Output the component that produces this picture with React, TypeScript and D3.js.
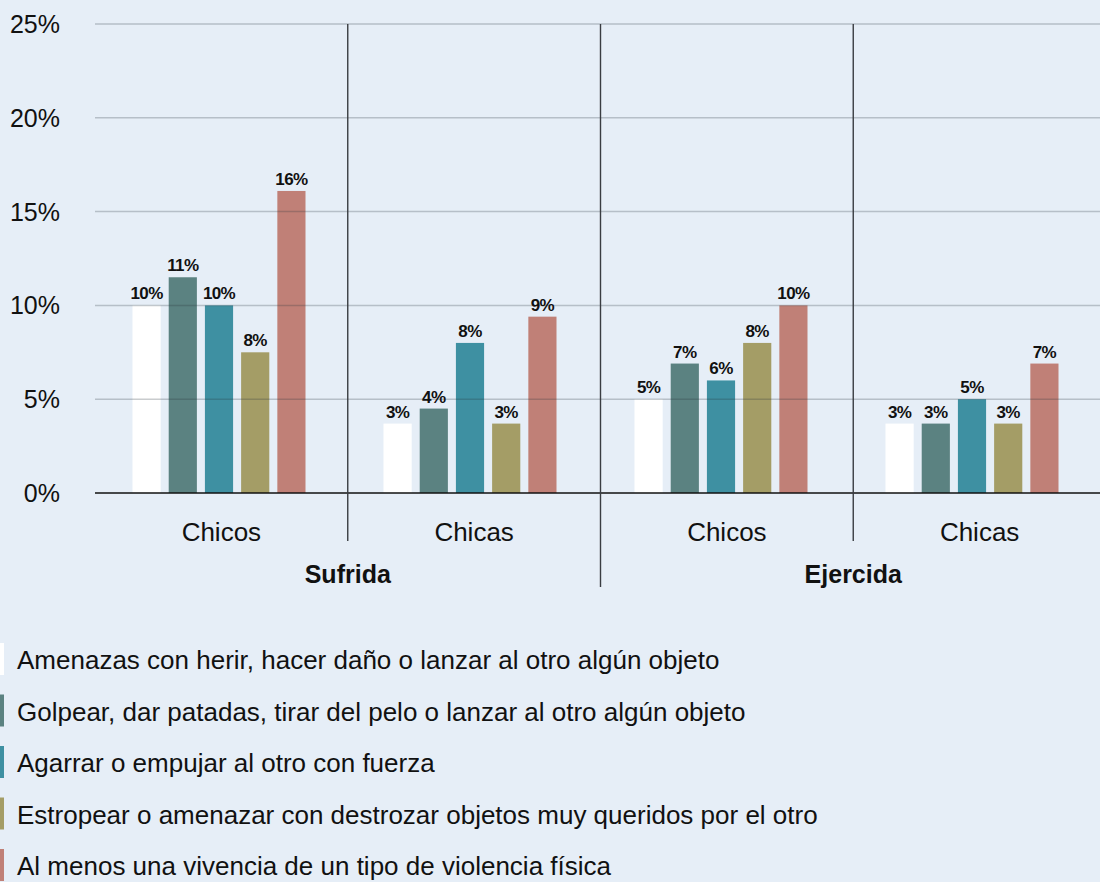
import * as d3 from "d3";
import { useEffect, useRef } from "react";

const WIDTH = 1100;
const HEIGHT = 882;

// categories on the x axis: (group, subgroup)
const groups = ["Sufrida", "Ejercida"];
const subgroups = ["Chicos", "Chicas"];
const categories = ["Sufrida-Chicos", "Sufrida-Chicas", "Ejercida-Chicos", "Ejercida-Chicas"];

const seriesNames = [
  "Amenazas con herir, hacer daño o lanzar al otro algún objeto",
  "Golpear, dar patadas, tirar del pelo o lanzar al otro algún objeto",
  "Agarrar o empujar al otro con fuerza",
  "Estropear o amenazar con destrozar objetos muy queridos por el otro",
  "Al menos una vivencia de un tipo de violencia física",
];
const seriesColors = ["#ffffff", "#5b8281", "#3e90a2", "#a49d66", "#c08077"];

// values in % per category (same order as categories)
const amenazas = [10.0, 3.7, 5.0, 3.7];
const golpear = [11.5, 4.5, 6.9, 3.7];
const agarrar = [10.0, 8.0, 6.0, 5.0];
const estropear = [7.5, 3.7, 8.0, 3.7];
const alMenos = [16.1, 9.4, 10.0, 6.9];

const amenazasLabels = ["10%", "3%", "5%", "3%"];
const golpearLabels = ["11%", "4%", "7%", "3%"];
const agarrarLabels = ["10%", "8%", "6%", "5%"];
const estropearLabels = ["8%", "3%", "8%", "3%"];
const alMenosLabels = ["16%", "9%", "10%", "7%"];

const yTicks = [0, 5, 10, 15, 20, 25];

const FONT = "'Liberation Sans', Arial, sans-serif";

export default function App() {
  const ref = useRef<SVGSVGElement | null>(null);

  useEffect(() => {
    const el = ref.current;
    if (!el) return;
    const svg = d3.select(el);
    svg.selectAll("*").remove();

    const values = [amenazas, golpear, agarrar, estropear, alMenos];
    const labels = [amenazasLabels, golpearLabels, agarrarLabels, estropearLabels, alMenosLabels];

    svg.append("rect").attr("width", WIDTH).attr("height", HEIGHT).attr("fill", "#e6eef7");

    const y = d3.scaleLinear().domain([0, 25]).range([493, 24]);
    const xCat = d3.scaleBand<string>().domain(categories).range([95, 1106]);
    const xBar = d3.scaleBand<string>().domain(categories).range([93.5, 1097.5]);
    const xInner = d3.scaleBand<string>().domain(seriesNames).range([-86.5, 86.5]).paddingInner(0.222);

    // bars
    seriesNames.forEach((name, si) => {
      svg
        .append("g")
        .selectAll("rect")
        .data(categories)
        .enter()
        .append("rect")
        .attr("x", (c) => (xBar(c) ?? 0) + xBar.bandwidth() / 2 + (xInner(name) ?? 0))
        .attr("y", (_, ci) => y(values[si][ci]))
        .attr("width", xInner.bandwidth())
        .attr("height", (_, ci) => y(0) - y(values[si][ci]))
        .attr("fill", seriesColors[si]);
    });

    // grid on top of bars
    svg
      .append("g")
      .selectAll("line")
      .data(yTicks.filter((t) => t > 0))
      .enter()
      .append("line")
      .attr("x1", 95)
      .attr("x2", WIDTH)
      .attr("y1", (d) => y(d))
      .attr("y2", (d) => y(d))
      .attr("stroke", "rgba(40,50,60,0.25)")
      .attr("stroke-width", 1.5);

    svg
      .append("line")
      .attr("x1", 95)
      .attr("x2", WIDTH)
      .attr("y1", y(0))
      .attr("y2", y(0))
      .attr("stroke", "#111")
      .attr("stroke-width", 1.5);

    // y tick labels
    svg
      .append("g")
      .selectAll("text")
      .data(yTicks)
      .enter()
      .append("text")
      .attr("x", 60)
      .attr("y", (d) => y(d) + 9)
      .attr("text-anchor", "end")
      .attr("font-family", FONT)
      .attr("font-size", 25)
      .attr("fill", "#111")
      .text((d) => `${d}%`);

    // value labels
    seriesNames.forEach((name, si) => {
      svg
        .append("g")
        .selectAll("text")
        .data(categories)
        .enter()
        .append("text")
        .attr("x", (c) => (xBar(c) ?? 0) + xBar.bandwidth() / 2 + (xInner(name) ?? 0) + xInner.bandwidth() / 2)
        .attr("y", (_, ci) => y(values[si][ci]) - 6)
        .attr("text-anchor", "middle")
        .attr("font-family", FONT)
        .attr("font-size", 17)
        .attr("font-weight", 700)
        .attr("letter-spacing", -0.6)
        .attr("fill", "#111")
        .text((_, ci) => labels[si][ci]);
    });

    // separators
    categories.slice(1).forEach((c) => {
      const isGroupEdge = c.split("-")[1] === subgroups[0];
      svg
        .append("line")
        .attr("x1", xCat(c) ?? 0)
        .attr("x2", xCat(c) ?? 0)
        .attr("y1", y(25))
        .attr("y2", isGroupEdge ? 587 : 541)
        .attr("stroke", "#3a3d42")
        .attr("stroke-width", 1.4);
    });

    // subgroup labels
    svg
      .append("g")
      .selectAll("text")
      .data(categories)
      .enter()
      .append("text")
      .attr("x", (c) => (xCat(c) ?? 0) + xCat.bandwidth() / 2)
      .attr("y", 541)
      .attr("text-anchor", "middle")
      .attr("font-family", FONT)
      .attr("font-size", 26)
      .attr("fill", "#111")
      .text((c) => c.split("-")[1]);

    // group labels
    svg
      .append("g")
      .selectAll("text")
      .data(groups)
      .enter()
      .append("text")
      .attr("x", (g) => {
        const inG = categories.filter((c) => c.startsWith(g));
        const x0 = xCat(inG[0]) ?? 0;
        const x1 = (xCat(inG[inG.length - 1]) ?? 0) + xCat.bandwidth();
        return (x0 + x1) / 2;
      })
      .attr("y", 583)
      .attr("text-anchor", "middle")
      .attr("font-family", FONT)
      .attr("font-size", 25)
      .attr("font-weight", 600)
      .attr("fill", "#111")
      .text((g) => g);

    // legend
    const legend = svg
      .append("g")
      .selectAll("g")
      .data(seriesNames)
      .enter()
      .append("g")
      .attr("transform", (_, i) => `translate(0,${643 + i * 51.5})`);

    legend
      .append("rect")
      .attr("x", 0)
      .attr("width", 4)
      .attr("height", 32)
      .attr("fill", (_, i) => seriesColors[i]);

    legend
      .append("text")
      .attr("x", 17)
      .attr("y", 26)
      .attr("font-family", FONT)
      .attr("font-size", 26)
      .attr("fill", "#111")
      .text((d) => d);
  }, []);

  return (
    <svg
      ref={ref}
      width={WIDTH}
      height={HEIGHT}
      style={{ position: "absolute", left: 0, top: 0, display: "block" }}
    />
  );
}
